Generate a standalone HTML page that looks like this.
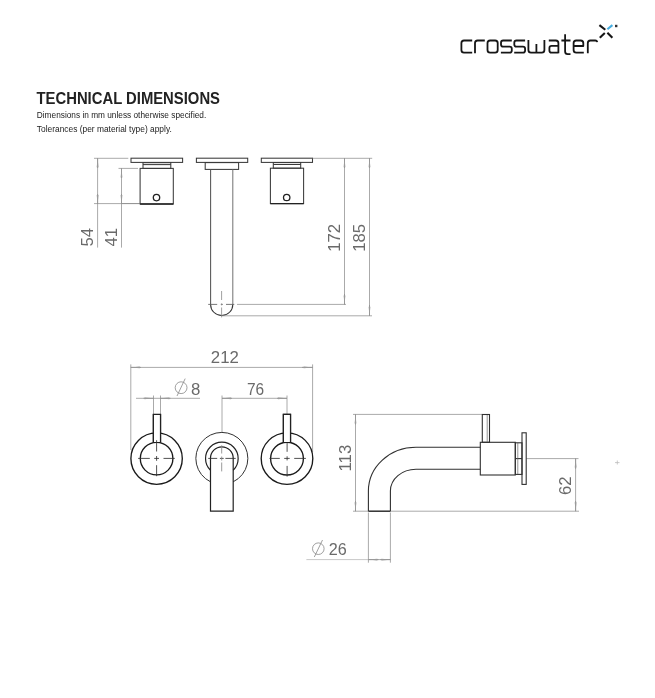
<!DOCTYPE html>
<html><head><meta charset="utf-8">
<style>
html,body{margin:0;padding:0;background:#fff;width:655px;height:698px;overflow:hidden}
svg{display:block;will-change:transform}
text{font-family:"Liberation Sans",sans-serif}
</style></head>
<body>
<svg width="655" height="698" viewBox="0 0 655 698">
<rect width="655" height="698" fill="#fff"/>
<defs>
<marker id="ar" viewBox="0 0 10 4" refX="10" refY="2" markerWidth="10" markerHeight="4" markerUnits="userSpaceOnUse" orient="auto-start-reverse">
<path d="M1,1.1 L10,2 L1,2.9 Z" fill="#9a9a9a"/>
</marker>
</defs>

<!-- LOGO -->
<g fill="none" stroke="#161616" stroke-width="1.8" stroke-linecap="butt" stroke-linejoin="round">
 <path d="M472.2,40.5 H464.0 Q461.4,40.5 461.4,43.1 V50.0 Q461.4,52.6 464.0,52.6 H472.2"/>
 <path d="M475,53.2 V43.1 Q475,40.5 477.6,40.5 H484.8"/>
 <path d="M490.1,40.5 H495.09999999999997 Q497.7,40.5 497.7,43.1 V50.0 Q497.7,52.6 495.09999999999997,52.6 H490.1 Q487.5,52.6 487.5,50.0 V43.1 Q487.5,40.5 490.1,40.5 Z"/>
 <path d="M511.8,40.5 H503.2 Q501,40.5 501,42.7 V44.4 Q501,46.6 503.2,46.6 H509.6 Q511.8,46.6 511.8,48.800000000000004 V50.4 Q511.8,52.6 509.6,52.6 H500.9"/>
 <path d="M525.1,40.5 H516.5 Q514.3,40.5 514.3,42.7 V44.4 Q514.3,46.6 516.5,46.6 H522.9 Q525.1,46.6 525.1,48.800000000000004 V50.4 Q525.1,52.6 522.9,52.6 H514.1999999999999"/>
 <path d="M528.4,40.1 V50.0 Q528.4,52.6 531.0,52.6 H541.8 Q544.4,52.6 544.4,50.0 V40.1 M536.4,44.0 V52.6"/>
 <path d="M548.8,40.5 H555.8 Q558.4,40.5 558.4,43.1 V53.2 M558.4,52.6 H551.6 Q549.4,52.6 549.4,50.4 V48.00000000000001 Q549.4,45.800000000000004 551.6,45.800000000000004 H558.4"/>
 <path d="M565.1,34.3 V51.6 Q565.1,54.2 567.7,54.2 H570.5 M561.4,40.5 H570.5"/>
 <path d="M583.8,52.6 H576.2 Q573.6,52.6 573.6,50.0 V43.1 Q573.6,40.5 576.2,40.5 H580.6999999999999 Q583.3,40.5 583.3,43.1 V46.0 H573.6"/>
 <path d="M587.8,53.2 V43.1 Q587.8,40.5 590.4,40.5 H595.3 Q596.9,40.5 597.3,42.1"/>
</g>
<g stroke-width="2.1" stroke-linecap="butt">
 <path d="M599.4,25.1 L605.3,29.8" stroke="#161616"/>
 <path d="M599.8,37.7 L604.8,33.1" stroke="#161616"/>
 <path d="M607.4,32.7 L612.4,37.7" stroke="#161616"/>
 <path d="M607.4,29.3 L612.4,25.1" stroke="#45ade0"/>
</g>
<rect x="615" y="24.8" width="2.4" height="2.4" fill="#333"/>

<!-- HEADER TEXT -->
<text x="36.5" y="104" font-size="15.6" font-weight="bold" fill="#222" textLength="183.5" lengthAdjust="spacingAndGlyphs">TECHNICAL DIMENSIONS</text>
<text x="36.8" y="118.2" font-size="8.2" fill="#222" textLength="169.5" lengthAdjust="spacingAndGlyphs">Dimensions in mm unless otherwise specified.</text>
<text x="36.8" y="132" font-size="8.2" fill="#222" textLength="135" lengthAdjust="spacingAndGlyphs">Tolerances (per material type) apply.</text>

<!-- ============ TOP VIEW ============ -->
<g fill="none" stroke="#3a3a3a" stroke-width="1.05">
 <!-- left handle -->
 <rect x="131" y="158.2" width="51.6" height="4.2"/>
 <rect x="143" y="162.7" width="27.8" height="5.7"/>
 <line x1="143" y1="164.6" x2="170.8" y2="164.6"/>
 <rect x="140.1" y="168.4" width="33.2" height="35.6"/><line x1="140.1" y1="204" x2="173.3" y2="204" stroke="#222" stroke-width="1.3"/>
 <circle cx="156.5" cy="197.6" r="3.2" stroke="#222" stroke-width="1.3"/>
 <!-- spout -->
 <rect x="196.4" y="158.2" width="51.3" height="4.2"/>
 <rect x="205.2" y="162.6" width="33.4" height="6.8"/>
 <path d="M210.6,169.4 V304.4" stroke="#555"/><path d="M210.6,304.4 A11.1,11.1 0 0 0 232.8,304.4" stroke="#333"/><path d="M232.8,304.4 V169.4" stroke="#777"/>
 <!-- right handle -->
 <rect x="261.3" y="158.2" width="51.2" height="4.2"/>
 <rect x="273.3" y="162.6" width="27.4" height="5.6"/>
 <line x1="273.3" y1="164.5" x2="300.7" y2="164.5"/>
 <rect x="270.4" y="168.2" width="33.2" height="35.4"/><line x1="270.4" y1="203.6" x2="303.6" y2="203.6" stroke="#222" stroke-width="1.3"/>
 <circle cx="286.7" cy="197.5" r="3.2" stroke="#222" stroke-width="1.3"/>
</g>
<g fill="none" stroke="#555" stroke-width="0.8">
 <path d="M208.2,304.4 H217.2 M220.8,304.4 H222.8 M226,304.4 H234.3"/><path d="M221.6,291 V300 M221.6,303.4 V305.4 M221.6,307.5 V317.4" stroke="#888"/>
</g>
<!-- top dims -->
<g fill="none" stroke="#8e8e8e" stroke-width="0.75">
 <line x1="94" y1="158.3" x2="128.3" y2="158.3"/>
 <line x1="312.6" y1="158.3" x2="372.2" y2="158.3"/>
 <line x1="118.5" y1="168.4" x2="138" y2="168.4"/>
 <line x1="94" y1="203.6" x2="121.5" y2="203.6"/><line x1="121.5" y1="203.6" x2="140" y2="203.6" stroke="#666"/>
 <line x1="237" y1="304.4" x2="346" y2="304.4"/>
 <line x1="222" y1="315.8" x2="372" y2="315.8"/>
 <line x1="97.6" y1="158.3" x2="97.6" y2="247.6"/>
 <line x1="121.5" y1="168.4" x2="121.5" y2="247.6"/>
 <line x1="344.5" y1="158.3" x2="344.5" y2="304.5"/>
 <line x1="369.5" y1="158.3" x2="369.5" y2="315.8"/>
 <line x1="97.6" y1="168" x2="97.6" y2="158.3" marker-end="url(#ar)"/>
 <line x1="97.6" y1="194" x2="97.6" y2="204" marker-end="url(#ar)"/>
 <line x1="121.5" y1="178" x2="121.5" y2="168.4" marker-end="url(#ar)"/>
 <line x1="121.5" y1="194" x2="121.5" y2="204" marker-end="url(#ar)"/>
 <line x1="344.5" y1="168" x2="344.5" y2="158.3" marker-end="url(#ar)"/>
 <line x1="344.5" y1="294" x2="344.5" y2="304.5" marker-end="url(#ar)"/>
 <line x1="369.5" y1="168" x2="369.5" y2="158.3" marker-end="url(#ar)"/>
 <line x1="369.5" y1="305" x2="369.5" y2="315.8" marker-end="url(#ar)"/>
</g>
<g fill="#6a6a6a" font-size="16.8">
 <text transform="translate(93,246.5) rotate(-90)">54</text>
 <text transform="translate(117,246.5) rotate(-90)">41</text>
 <text transform="translate(340,251.8) rotate(-90)">172</text>
 <text transform="translate(365,251.8) rotate(-90)">185</text>
</g>

<!-- ============ FRONT VIEW ============ -->
<g fill="none" stroke="#8e8e8e" stroke-width="0.75">
 <line x1="130.8" y1="364.4" x2="130.8" y2="450"/>
 <line x1="312.6" y1="364.4" x2="312.6" y2="452"/>
 <line x1="130.8" y1="367.4" x2="312.6" y2="367.4"/>
 <line x1="141" y1="367.4" x2="130.8" y2="367.4" marker-end="url(#ar)"/>
 <line x1="302" y1="367.4" x2="312.6" y2="367.4" marker-end="url(#ar)"/>
 <!-- dia 8 -->
 <line x1="136" y1="398.3" x2="200" y2="398.3"/>
 <line x1="143.5" y1="398.3" x2="153.5" y2="398.3" marker-end="url(#ar)"/>
 <line x1="170.5" y1="398.3" x2="160.4" y2="398.3" marker-end="url(#ar)"/>
 <line x1="153.5" y1="395.5" x2="153.5" y2="414.5"/>
 <line x1="160.5" y1="395.5" x2="160.5" y2="414.5"/>
 <!-- 76 -->
 <line x1="222" y1="398.3" x2="287" y2="398.3"/>
 <line x1="232" y1="398.3" x2="222" y2="398.3" marker-end="url(#ar)"/>
 <line x1="277" y1="398.3" x2="287" y2="398.3" marker-end="url(#ar)"/>
 <line x1="222" y1="395.5" x2="222" y2="433"/>
 <line x1="287" y1="395.5" x2="287" y2="442"/>
</g>
<g fill="#6a6a6a" font-size="16.8">
 <text x="224.8" y="363.4" text-anchor="middle">212</text>
 <text x="247" y="394.6" textLength="17.2" lengthAdjust="spacingAndGlyphs">76</text>
 <text x="191" y="394.6">8</text>
</g>
<g fill="none" stroke="#888" stroke-width="0.8">
 <circle cx="181.1" cy="387.7" r="5.9"/>
 <line x1="177" y1="396" x2="185.2" y2="378.6"/>
</g>
<!-- handles front -->
<g fill="none" stroke="#1a1a1a" stroke-width="1.35">
 <circle cx="156.6" cy="458.6" r="25.7"/>
 <path d="M153.4,442.8 V414.5 H160.5 V442.8"/>
 <circle cx="156.6" cy="458.6" r="16.3" fill="#fff"/>
 <circle cx="287" cy="458.6" r="25.8"/>
 <path d="M283.4,442.8 V414.3 H290.5 V442.8"/>
 <circle cx="287" cy="458.6" r="16.4" fill="#fff"/>
</g>
<rect x="154" y="415" width="6" height="27" fill="#fff"/>
<rect x="284" y="415" width="6" height="27" fill="#fff"/>
<g fill="none" stroke="#222" stroke-width="1.2">
 <path d="M153.4,442.6 V414.5 H160.5 V442.6"/>
 <path d="M283.4,442.6 V414.3 H290.5 V442.6"/>
</g>
<!-- spout front -->
<g fill="none" stroke="#333" stroke-width="1">
 <path d="M210.5,481.8 A26,26 0 1 1 233.2,481.8"/>
</g>
<g fill="none" stroke="#222" stroke-width="1.2">
 <path d="M210.5,470.2 A16.3,16.3 0 1 1 233.2,470.2"/>
 <path d="M210.5,458.2 A11.35,11.35 0 0 1 233.2,458.2 V511.2 H210.5 Z"/>
</g>
<g fill="none" stroke="#333" stroke-width="0.85">
 <path d="M138.1,458.4 H149.8 M154.2,458.4 H159 M163.5,458.4 H174.8 M156.6,440.2 V451.5 M156.6,456 V460.8 M156.6,465.2 V476.2"/>
 <path d="M269.5,458.4 H279.8 M284.2,458.4 H289.7 M294.2,458.4 H305.9 M287.1,442.9 V451.8 M287.1,456.3 V460.4 M287.1,465.9 V476.6"/>
 <path d="M208.2,458.4 H217.2 M219.9,458.4 H223.7 M225.4,458.4 H235.7"/>
</g>
<g fill="none" stroke="#888" stroke-width="0.85">
 <path d="M221.7,445.3 V453.5 M221.7,456.5 V460.5 M221.7,462.5 V471.4"/>
</g>

<!-- ============ SIDE VIEW ============ -->
<g fill="none" stroke="#8e8e8e" stroke-width="0.75">
 <line x1="353" y1="414.4" x2="482.3" y2="414.4"/>
 <line x1="355.5" y1="414.4" x2="355.5" y2="511.2"/>
 <line x1="355.5" y1="424.5" x2="355.5" y2="414.4" marker-end="url(#ar)"/>
 <line x1="355.5" y1="501" x2="355.5" y2="511.2" marker-end="url(#ar)"/>
 <line x1="353" y1="511.2" x2="368.4" y2="511.2"/>
 <line x1="390.4" y1="511.2" x2="579" y2="511.2"/>
 <line x1="526.2" y1="458.6" x2="578.5" y2="458.6"/>
 <line x1="575.6" y1="458.6" x2="575.6" y2="511.2"/>
 <line x1="575.6" y1="468.8" x2="575.6" y2="458.6" marker-end="url(#ar)"/>
 <line x1="575.6" y1="501" x2="575.6" y2="511.2" marker-end="url(#ar)"/>
 <!-- dia 26 -->
 <line x1="368.4" y1="512.5" x2="368.4" y2="562.7"/>
 <line x1="390.4" y1="512.5" x2="390.4" y2="562.7"/>
 <line x1="306.4" y1="559.6" x2="368.4" y2="559.6" stroke="#b5b5b5"/><line x1="368.4" y1="559.6" x2="390.4" y2="559.6"/>
 <line x1="378.5" y1="559.6" x2="368.4" y2="559.6" marker-end="url(#ar)"/>
 <line x1="380.3" y1="559.6" x2="390.4" y2="559.6" marker-end="url(#ar)"/>
</g>
<g fill="#6a6a6a" font-size="16.8">
 <text transform="translate(351,471.5) rotate(-90)">113</text>
 <text transform="translate(571,495) rotate(-90)">62</text>
 <text x="328.8" y="554.8" textLength="18" lengthAdjust="spacingAndGlyphs">26</text>
</g>
<g fill="none" stroke="#888" stroke-width="0.8">
 <circle cx="318.3" cy="548.7" r="5.8"/>
 <line x1="314.3" y1="557" x2="322.5" y2="540"/>
</g>
<g fill="none" stroke="#303030" stroke-width="1.1">
 <path d="M368.4,511.2 V491 A47.6,43.7 0 0 1 416,447.3 H480.3"/>
 <path d="M390.4,511.2 V491 A25.6,21.8 0 0 1 416,469.2 H480.3"/>
 <line x1="368.4" y1="511.2" x2="390.4" y2="511.2" stroke-width="1.5"/>
 <rect x="480.3" y="442.3" width="35" height="32.7"/>
 <rect x="482.3" y="414.5" width="7.2" height="27.8"/>
 <rect x="515.3" y="442.8" width="6.7" height="31.6"/>
 <line x1="515.3" y1="458.6" x2="522" y2="458.6"/>
 <rect x="522" y="432.8" width="4.2" height="51.6"/>
</g>
<g fill="none" stroke="#666" stroke-width="0.7">
 <line x1="487.2" y1="415" x2="487.2" y2="442"/>
 <line x1="517.8" y1="443" x2="517.8" y2="474"/>
</g>
<g stroke="#bbb" stroke-width="0.8">
 <line x1="615" y1="462.6" x2="619.5" y2="462.6"/>
 <line x1="617.3" y1="460.5" x2="617.3" y2="464.5"/>
</g>
</svg>
</body></html>
